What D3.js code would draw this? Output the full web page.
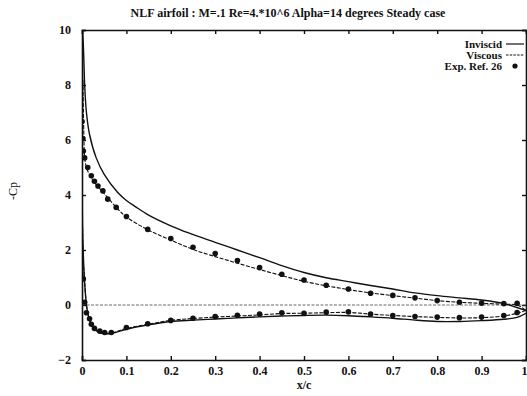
<!DOCTYPE html>
<html>
<head>
<meta charset="utf-8">
<script src="https://cdn.jsdelivr.net/npm/d3@7"></script>
<style>
  html, body { margin: 0; padding: 0; background: #fff; }
  svg { display: block; }
  text { font-family: "Liberation Serif", "DejaVu Serif", serif; font-weight: bold; fill: #111; }
</style>
</head>
<body>
<svg id="chart" width="527" height="396"></svg>
<script>
// Pressure coefficient on the NLF airfoil, -Cp against x/c.
// Each surface is listed as [x/c, -Cp]; lower goes trailing edge -> leading edge.
const inviscidLower = [
  [1.0, -0.3], [0.98, -0.45], [0.95, -0.52], [0.9, -0.57], [0.85, -0.6], [0.8, -0.6],
  [0.75, -0.55], [0.7, -0.48], [0.65, -0.43], [0.6, -0.39], [0.55, -0.37], [0.5, -0.38],
  [0.45, -0.4], [0.4, -0.43], [0.35, -0.47], [0.3, -0.51], [0.25, -0.55], [0.2, -0.6],
  [0.15, -0.72], [0.1, -0.88], [0.07, -1.02], [0.05, -1.05], [0.035, -0.97], [0.025, -0.82],
  [0.018, -0.6], [0.013, -0.3], [0.01, 0.0], [0.006, 0.8], [0.003, 1.8], [0.001, 3.0]
];
const inviscidUpper = [
  [0.0015, 10.0], [0.004, 9.0], [0.006, 8.0], [0.01, 7.0], [0.017, 6.2], [0.032, 5.35],
  [0.05, 4.75], [0.08, 4.1], [0.1, 3.8], [0.12, 3.58], [0.15, 3.27], [0.2, 2.88],
  [0.24, 2.62], [0.3, 2.28], [0.35, 2.0], [0.4, 1.72], [0.45, 1.43], [0.5, 1.18],
  [0.55, 0.99], [0.6, 0.85], [0.65, 0.71], [0.7, 0.58], [0.75, 0.44], [0.8, 0.34],
  [0.85, 0.26], [0.9, 0.18], [0.95, 0.05], [1.0, -0.2]
];
const viscousLower = [
  [1.0, -0.2], [0.98, -0.3], [0.95, -0.4], [0.9, -0.46], [0.85, -0.47], [0.8, -0.45],
  [0.75, -0.42], [0.7, -0.38], [0.65, -0.33], [0.6, -0.27], [0.55, -0.28], [0.5, -0.3],
  [0.45, -0.31], [0.4, -0.36], [0.35, -0.4], [0.3, -0.44], [0.25, -0.49], [0.2, -0.56],
  [0.15, -0.7], [0.1, -0.85], [0.07, -1.0], [0.05, -1.02], [0.035, -0.95], [0.025, -0.8],
  [0.018, -0.55], [0.013, -0.3], [0.01, 0.0], [0.006, 0.8], [0.003, 1.6], [0.001, 3.0]
];
const viscousUpper = [
  [0.002, 8.2], [0.004, 6.3], [0.006, 5.4], [0.01, 5.0], [0.02, 4.65], [0.03, 4.42],
  [0.05, 4.05], [0.08, 3.5], [0.1, 3.2], [0.15, 2.72], [0.2, 2.36], [0.25, 2.02],
  [0.3, 1.76], [0.35, 1.52], [0.4, 1.29], [0.45, 1.07], [0.5, 0.86], [0.55, 0.7],
  [0.6, 0.56], [0.65, 0.44], [0.7, 0.34], [0.75, 0.25], [0.8, 0.16], [0.85, 0.1],
  [0.9, 0.06], [0.95, 0.03], [0.98, 0.0], [1.0, -0.2]
];
// Experimental points (Ref. 26)
const expUpper = [
  [0.0, 6.67], [0.002, 6.05], [0.003, 5.6], [0.006, 5.35], [0.013, 5.0], [0.021, 4.7],
  [0.028, 4.5], [0.036, 4.33], [0.047, 4.15], [0.058, 3.85], [0.077, 3.55], [0.1, 3.22],
  [0.148, 2.75], [0.2, 2.42], [0.25, 2.1], [0.3, 1.87], [0.35, 1.62], [0.4, 1.36],
  [0.45, 1.12], [0.5, 0.91], [0.55, 0.72], [0.6, 0.58], [0.65, 0.43], [0.7, 0.35],
  [0.75, 0.26], [0.8, 0.16], [0.85, 0.1], [0.9, 0.07], [0.95, 0.05], [0.98, 0.06]
];
const expLower = [
  [0.003, 0.95], [0.006, 0.1], [0.01, -0.28], [0.017, -0.5], [0.021, -0.7], [0.028, -0.85],
  [0.04, -0.95], [0.051, -1.0], [0.066, -1.0], [0.1, -0.82], [0.148, -0.68], [0.2, -0.56],
  [0.25, -0.48], [0.3, -0.42], [0.35, -0.37], [0.4, -0.33], [0.45, -0.28], [0.5, -0.3],
  [0.55, -0.26], [0.6, -0.25], [0.65, -0.33], [0.7, -0.38], [0.75, -0.42], [0.8, -0.44],
  [0.85, -0.46], [0.9, -0.44], [0.95, -0.38], [0.98, -0.27]
];

const xTicks = [0, 0.1, 0.2, 0.3, 0.4, 0.5, 0.6, 0.7, 0.8, 0.9, 1];
const yTicks = [-2, 0, 2, 4, 6, 8, 10];
const legendLabels = ["Inviscid", "Viscous", "Exp. Ref. 26"];
const titleText = "NLF airfoil : M=.1 Re=4.*10^6 Alpha=14 degrees Steady case";

const svg = d3.select("#chart");
const m = { left: 82, right: 526, top: 30, bottom: 360 };

const x = d3.scaleLinear().domain([0, 1]).range([m.left, m.right]);
const y = d3.scaleLinear().domain([-2, 10]).range([m.bottom, m.top]);

svg.append("defs").append("clipPath").attr("id", "plot-clip")
  .append("rect")
  .attr("x", m.left).attr("y", m.top)
  .attr("width", m.right - m.left).attr("height", m.bottom - m.top);

// Axes with inward ticks on all four sides
const tickLen = 4;
const axB = svg.append("g").attr("transform", `translate(0,${m.bottom})`)
  .call(d3.axisBottom(x).tickValues(xTicks).tickSize(-tickLen).tickPadding(8)
    .tickFormat(d => d === 0 ? "0" : (d === 1 ? "1" : d3.format(".1f")(d))));
const axT = svg.append("g").attr("transform", `translate(0,${m.top})`)
  .call(d3.axisTop(x).tickValues(xTicks).tickSize(-tickLen).tickFormat(""));
const axL = svg.append("g").attr("transform", `translate(${m.left},0)`)
  .call(d3.axisLeft(y).tickValues(yTicks).tickSize(-tickLen).tickPadding(11));
const axR = svg.append("g").attr("transform", `translate(${m.right},0)`)
  .call(d3.axisRight(y).tickValues(yTicks).tickSize(-tickLen).tickFormat(""));

[axB, axT, axL, axR].forEach(g => {
  g.select(".domain").attr("stroke", "#111").attr("stroke-width", 1.6);
  g.selectAll(".tick line").attr("stroke", "#111").attr("stroke-width", 1.4);
  g.selectAll(".tick text").style("font-size", "12px").attr("fill", "#111")
    .style("font-family", "'Liberation Serif', serif").style("font-weight", "bold");
});
axB.selectAll(".tick text").attr("dy", "0.55em");
// the last label sits on the right border; keep it inside the page
axB.selectAll(".tick text").filter(d => d === 1).attr("text-anchor", "end").attr("dx", "1px");

// Zero reference line
svg.append("line")
  .attr("x1", x(0)).attr("x2", x(1)).attr("y1", y(0)).attr("y2", y(0))
  .attr("stroke", "#444").attr("stroke-width", 0.8).attr("stroke-dasharray", "3,1.5");

const line = d3.line().x(d => x(d[0])).y(d => y(d[1])).curve(d3.curveCatmullRom.alpha(0.5));
const plot = svg.append("g").attr("clip-path", "url(#plot-clip)");

plot.append("path").datum(inviscidLower.concat(inviscidUpper))
  .attr("d", line).attr("fill", "none").attr("stroke", "#111").attr("stroke-width", 1.4);
plot.append("path").datum(viscousLower.concat(viscousUpper))
  .attr("d", line).attr("fill", "none").attr("stroke", "#111").attr("stroke-width", 1.1)
  .attr("stroke-dasharray", "4,1.5");

plot.selectAll("circle.exp").data(expUpper.concat(expLower)).enter().append("circle")
  .attr("class", "exp")
  .attr("cx", d => x(d[0])).attr("cy", d => y(d[1])).attr("r", 2.8).attr("fill", "#111");

// Title and axis labels
svg.append("text").attr("x", 288).attr("y", 17).attr("text-anchor", "middle")
  .style("font-size", "12px").text(titleText);
svg.append("text").attr("x", 304).attr("y", 389).attr("text-anchor", "middle")
  .style("font-size", "12px").text("x/c");
svg.append("text").attr("transform", "translate(17,191) rotate(-90)").attr("text-anchor", "middle")
  .style("font-size", "12px").style("font-weight", "normal").text("-Cp");

// Legend
const lg = svg.append("g");
const lgY = [44, 55, 66];
legendLabels.forEach((t, i) => {
  lg.append("text").attr("x", 502).attr("y", lgY[i] + 3.5).attr("text-anchor", "end")
    .style("font-size", "11px").text(t);
});
lg.append("line").attr("x1", 506).attr("x2", 524).attr("y1", lgY[0]).attr("y2", lgY[0])
  .attr("stroke", "#111").attr("stroke-width", 1.2);
lg.append("line").attr("x1", 506).attr("x2", 524).attr("y1", lgY[1]).attr("y2", lgY[1])
  .attr("stroke", "#111").attr("stroke-width", 1.1).attr("stroke-dasharray", "2.5,1.2");
lg.append("circle").attr("cx", 515).attr("cy", lgY[2]).attr("r", 2.6).attr("fill", "#111");
</script>
</body>
</html>
